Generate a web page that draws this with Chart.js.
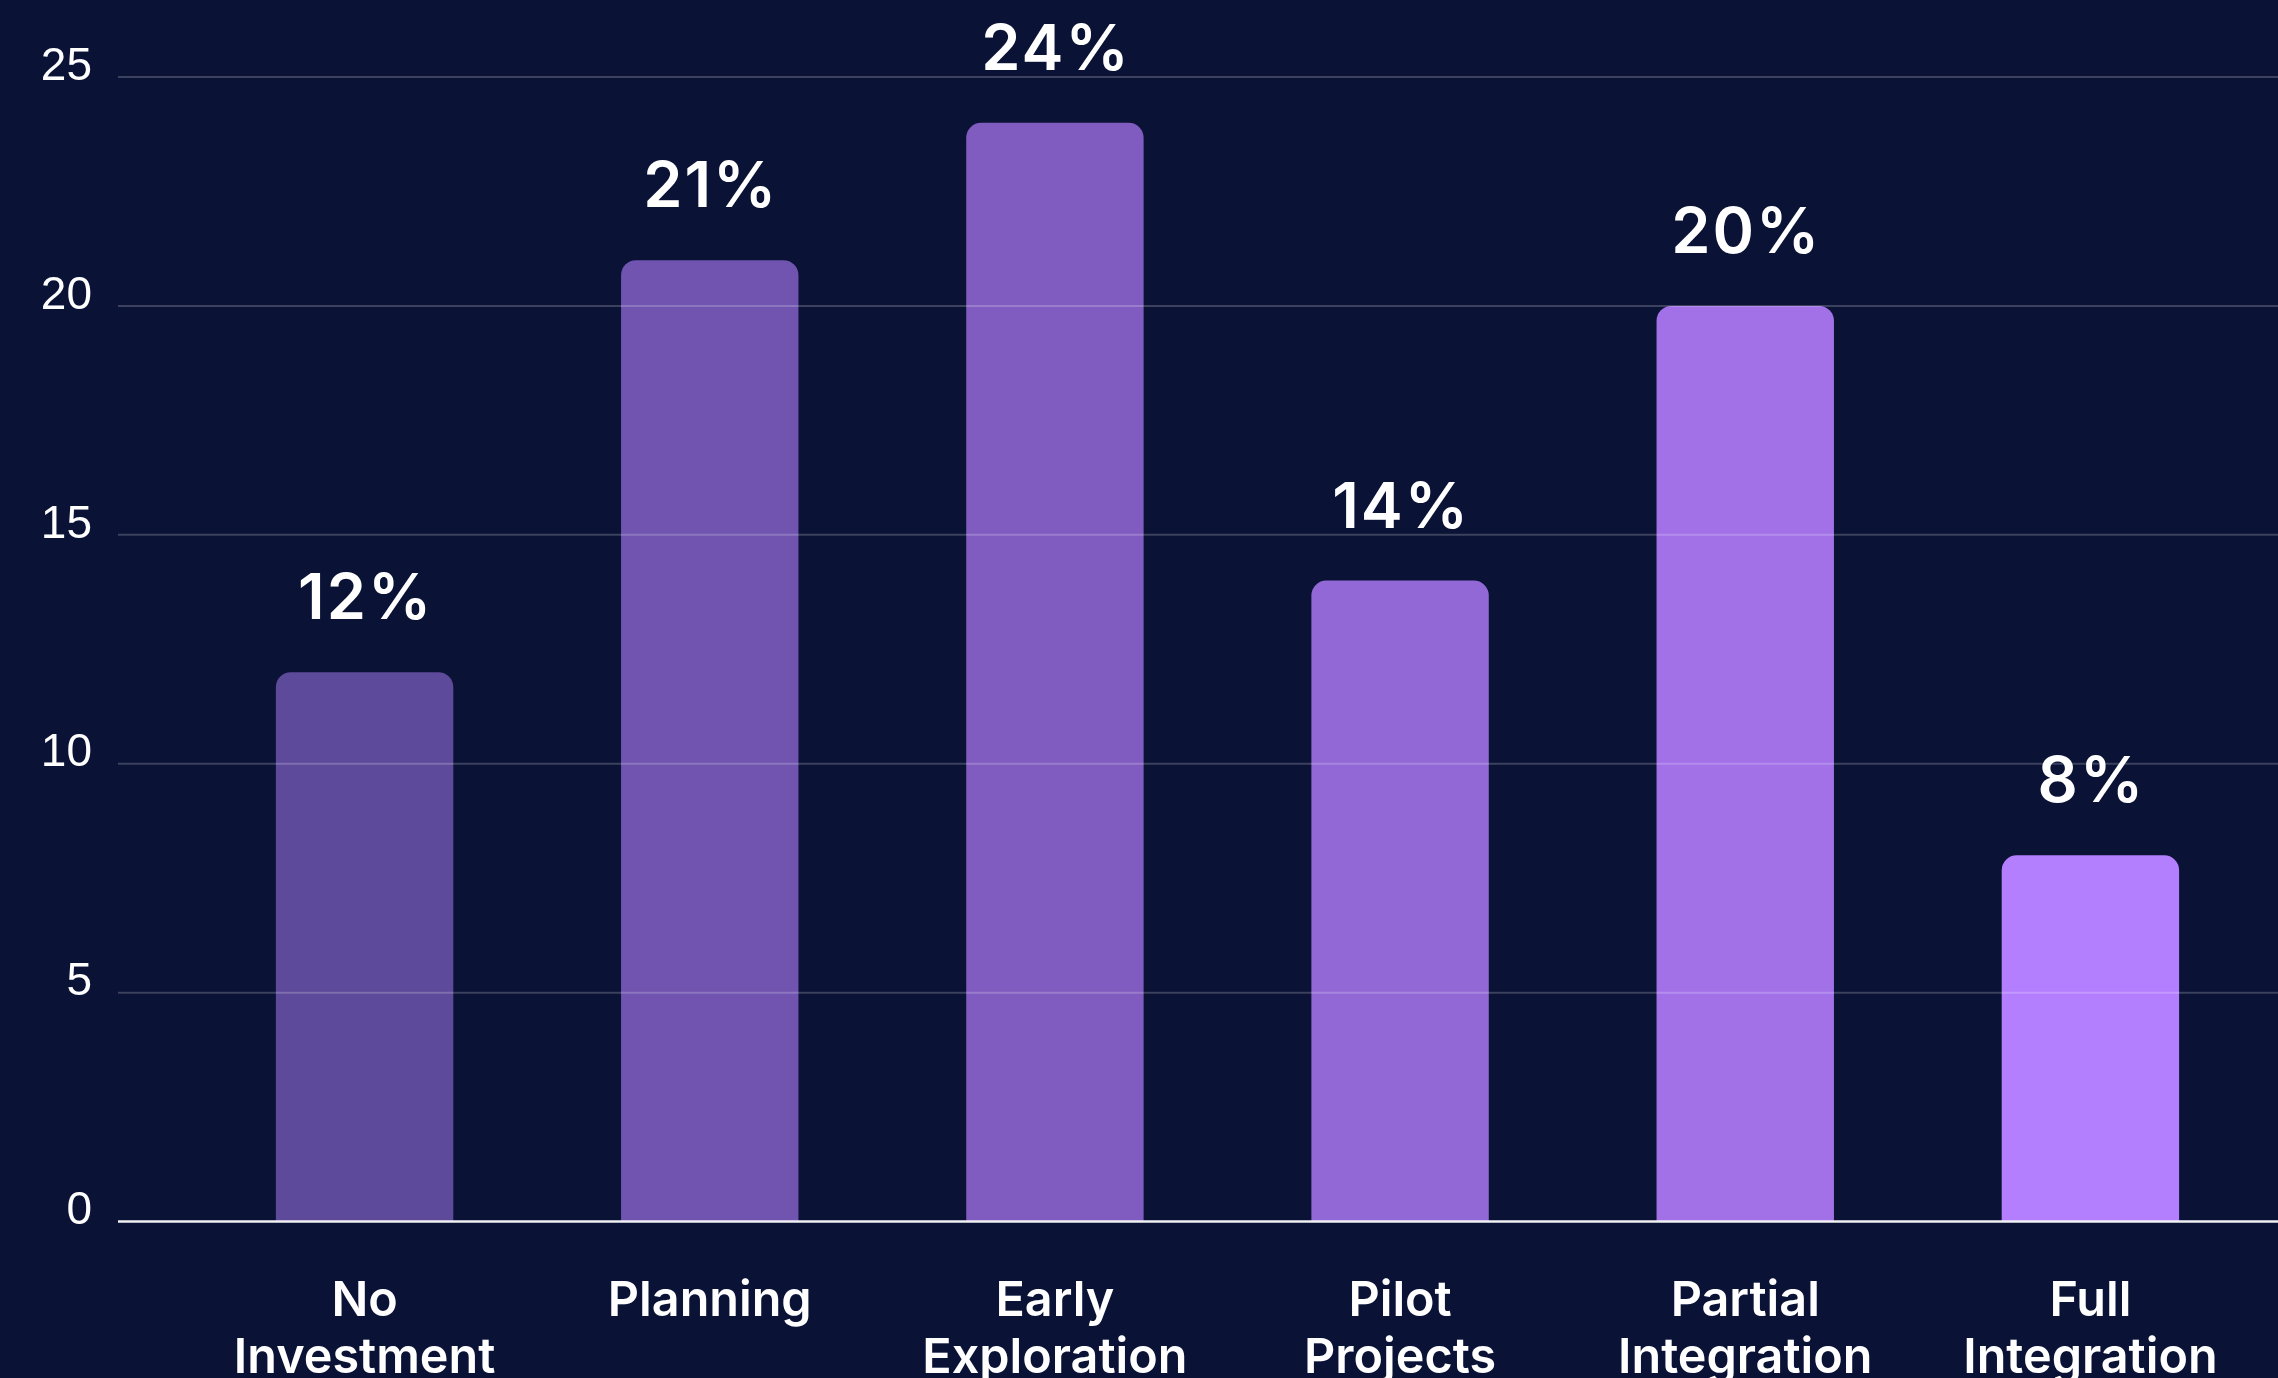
<!DOCTYPE html>
<html>
<head>
<meta charset="utf-8">
<script src="https://cdn.jsdelivr.net/npm/chart.js@4.4.1/dist/chart.umd.min.js"></script>
<style>
  html, body { margin: 0; padding: 0; background: #0a1236; overflow: hidden; }
  #wrap { width: 2278px; height: 1378px; overflow: hidden; }
  #wrap canvas { display: block; }
</style>
</head>
<body>
<div id="wrap"><canvas id="barChart" width="2278" height="1438"></canvas></div>
<script>
const stages = [
  ['No', 'Investment'], 'Planning', ['Early', 'Exploration'],
  ['Pilot', 'Projects'], ['Partial', 'Integration'], ['Full', 'Integration']
]
const shares = [12, 21, 24, 14, 20, 8]
const barColors = ['#5e4a9a', '#7054b0', '#805cc0', '#9168d6', '#a271e8', '#b47fff']
const yTicks = [0, 5, 10, 15, 20, 25]

// horizontal rules drawn over the bars, reaching into the tick area on the left
const gridOverlay = {
  id: 'gridOverlay',
  afterDatasetsDraw(chart) {
    const { ctx, chartArea, scales: { y } } = chart
    ctx.save()
    y.ticks.forEach(tick => {
      const py = y.getPixelForValue(tick.value)
      ctx.beginPath()
      ctx.lineWidth = tick.value === 0 ? 2.5 : 2
      ctx.strokeStyle = tick.value === 0 ? '#f0f0f5' : 'rgba(255, 255, 255, 0.2)'
      ctx.moveTo(chartArea.left - 74, py)
      ctx.lineTo(chart.width, py)
      ctx.stroke()
    })
    ctx.restore()
  }
}

// percentage above each bar
const valueLabels = {
  id: 'valueLabels',
  afterDatasetsDraw(chart) {
    const { ctx } = chart
    const meta = chart.getDatasetMeta(0)
    ctx.save()
    ctx.font = '600 63px Inter'
    ctx.letterSpacing = '2px'
    ctx.fillStyle = '#ffffff'
    ctx.textAlign = 'center'
    ctx.textBaseline = 'alphabetic'
    meta.data.forEach((bar, i) => {
      ctx.fillText(shares[i] + '%', bar.x + 1, bar.y - 53)
    })
    ctx.restore()
  }
}

const ctx = document.getElementById('barChart').getContext('2d')

new Chart(ctx, {
  type: 'bar',
  data: {
    labels: stages,
    datasets: [
      {
        data: shares,
        backgroundColor: barColors,
        borderRadius: { topLeft: 15, topRight: 15 },
        borderSkipped: 'bottom',
        barPercentage: 0.514,
        categoryPercentage: 1
      }
    ]
  },
  options: {
    responsive: false,
    devicePixelRatio: 1,
    animation: false,
    layout: {
      padding: { top: 77, left: 41, right: 15, bottom: 0 }
    },
    plugins: {
      legend: { display: false },
      tooltip: { enabled: false }
    },
    scales: {
      x: {
        grid: { display: false, drawTicks: false },
        border: { display: false },
        ticks: {
          color: '#ffffff',
          font: { family: 'Inter', size: 48.5, weight: 600, lineHeight: 1.18 },
          padding: 51,
          maxRotation: 0,
          autoSkip: false
        }
      },
      y: {
        min: 0,
        max: 25,
        afterBuildTicks: scale => {
          scale.ticks = yTicks.map(v => ({ value: v }))
        },
        afterFit: scale => {
          // keep the wide label gap from pushing the plot down or right
          scale.width = 151
          scale.paddingTop = 0
          scale.paddingBottom = 0
        },
        grid: { display: false, drawTicks: false },
        border: { display: false },
        ticks: {
          color: '#ffffff',
          font: { family: 'Liberation Sans', size: 46 },
          padding: 100,
          labelOffset: -10
        }
      }
    }
  },
  plugins: [gridOverlay, valueLabels]
})
</script>
</body>
</html>
